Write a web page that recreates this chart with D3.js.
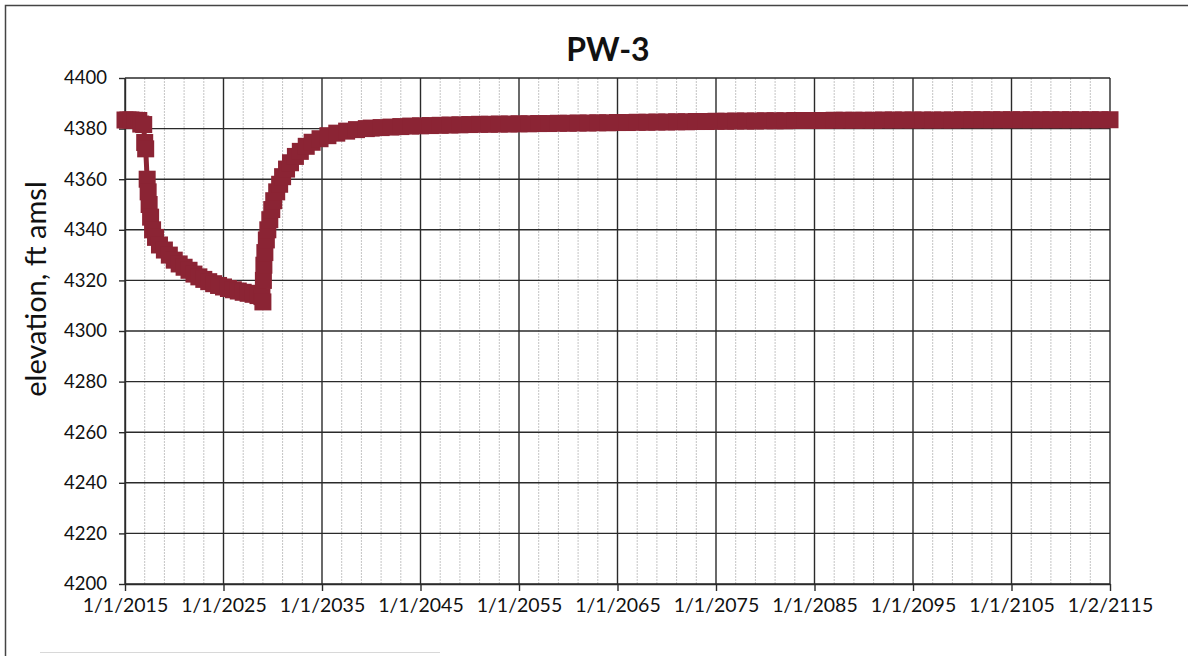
<!DOCTYPE html>
<html>
<head>
<meta charset="utf-8">
<script src="https://cdn.jsdelivr.net/npm/d3@7"></script>
<style>
  html, body { margin: 0; padding: 0; background: #fff; }
  svg { display: block; }
  text { font-family: Lato, "Open Sans", sans-serif; fill: #111; }
</style>
</head>
<body>
<svg id="chart" width="1188" height="656"></svg>
<script>
// ---- data (decimal years, elevation ft amsl) ----
const years = [
  2015.0, 2015.3, 2015.6, 2016.0, 2016.4, 2016.6, 2016.9, 2017.0, 2017.1,
  2017.25, 2017.35, 2017.45, 2017.6, 2017.8, 2018.1, 2018.5, 2019.0,
  2019.5, 2020.0, 2020.5, 2021.0, 2021.5, 2022.0, 2022.5, 2023.0,
  2023.5, 2024.0, 2024.5, 2025.0, 2025.5, 2026.0, 2026.5, 2027.0,
  2027.5, 2028.0, 2028.5, 2028.9, 2029.0,
  2029.05, 2029.1, 2029.2, 2029.35, 2029.5, 2029.7, 2029.9, 2030.1,
  2030.4, 2030.7, 2031.0, 2031.4, 2031.8, 2032.3, 2032.8, 2033.4,
  2034.0, 2034.8, 2035.6, 2036.5, 2037.5, 2038.5, 2039.5,
  2040, 2041, 2042, 2043, 2044, 2045, 2046, 2047, 2048, 2049,
  2050, 2051, 2052, 2053, 2054, 2055, 2056, 2057, 2058, 2059,
  2060, 2061, 2062, 2063, 2064, 2065, 2066, 2067, 2068, 2069,
  2070, 2071, 2072, 2073, 2074, 2075, 2076, 2077, 2078, 2079,
  2080, 2081, 2082, 2083, 2084, 2085, 2086, 2087, 2088, 2089,
  2090, 2091, 2092, 2093, 2094, 2095, 2096, 2097, 2098, 2099,
  2100, 2101, 2102, 2103, 2104, 2105, 2106, 2107, 2108, 2109,
  2110, 2111, 2112, 2113, 2114, 2115
];
const elevations = [
  4383.4, 4383.4, 4383.4, 4383.3, 4383.2, 4381.8, 4381.6, 4374.5, 4372.0,
  4360.0, 4355.0, 4350.0, 4345.0, 4340.0, 4337.0, 4334.0, 4332.0,
  4330.0, 4328.0, 4326.5, 4325.2, 4324.0, 4322.5, 4321.4, 4320.4,
  4319.5, 4318.7, 4318.0, 4317.4, 4316.8, 4316.3, 4315.8, 4315.3,
  4314.9, 4314.5, 4314.0, 4313.6, 4311.5,
  4320.0, 4326.0, 4331.0, 4336.0, 4340.0, 4344.0, 4348.0, 4351.5,
  4355.0, 4358.0, 4361.0, 4364.0, 4366.5, 4369.0, 4371.0, 4373.0,
  4374.6, 4376.0, 4377.2, 4378.2, 4379.0, 4379.6, 4380.0,
  4380.2, 4380.4, 4380.6, 4380.8, 4381.0, 4381.1, 4381.2, 4381.3, 4381.4, 4381.5,
  4381.6, 4381.7, 4381.7, 4381.8, 4381.8, 4381.9, 4381.9, 4382.0, 4382.0, 4382.1,
  4382.1, 4382.2, 4382.2, 4382.3, 4382.3, 4382.4, 4382.4, 4382.5, 4382.5, 4382.6,
  4382.6, 4382.7, 4382.7, 4382.8, 4382.8, 4382.9, 4382.9, 4383.0, 4383.0, 4383.0,
  4383.1, 4383.1, 4383.1, 4383.2, 4383.2, 4383.2, 4383.2, 4383.3, 4383.3, 4383.3,
  4383.3, 4383.3, 4383.4, 4383.4, 4383.4, 4383.4, 4383.4, 4383.4, 4383.4, 4383.4,
  4383.5, 4383.5, 4383.5, 4383.5, 4383.5, 4383.5, 4383.5, 4383.5, 4383.5, 4383.5,
  4383.5, 4383.5, 4383.5, 4383.5, 4383.5, 4383.5
];
const xTickYears = [2015, 2025, 2035, 2045, 2055, 2065, 2075, 2085, 2095, 2105, 2115];
const xTickLabels = ["1/1/2015", "1/1/2025", "1/1/2035", "1/1/2045", "1/1/2055", "1/1/2065",
                     "1/1/2075", "1/1/2085", "1/1/2095", "1/1/2105", "1/2/2115"];
const yTicks = [4200, 4220, 4240, 4260, 4280, 4300, 4320, 4340, 4360, 4380, 4400];
const minorYears = d3.range(2015, 2116, 2).filter(y => (y - 2015) % 10 !== 0);
const title = "PW-3";
const yTitle = "elevation, ft amsl";

// ---- layout ----
const svg = d3.select("#chart");
const m = { left: 125, right: 1110, top: 78, bottom: 584 };
const x = d3.scaleLinear().domain([2015, 2115]).range([m.left, m.right]);
const y = d3.scaleLinear().domain([4200, 4400]).range([m.bottom, m.top]);
const color = "#8b2434";
const fontFam = "Lato, 'Open Sans', sans-serif";

svg.append("rect").attr("width", 1188).attr("height", 656).attr("fill", "#fff");

// outer frame
svg.append("path").attr("d", "M5.5,656 V5.5 H1188")
  .attr("fill", "none").attr("stroke", "#444").attr("stroke-width", 1.5);
svg.append("line").attr("x1", 40).attr("x2", 440).attr("y1", 652.5).attr("y2", 652.5)
  .attr("stroke", "#d8d8d8").attr("stroke-width", 1);

// minor vertical gridlines
svg.append("g").selectAll("line").data(minorYears).join("line")
  .attr("x1", d => x(d)).attr("x2", d => x(d))
  .attr("y1", m.top).attr("y2", m.bottom)
  .attr("stroke", "#c4c4c4").attr("stroke-width", 1).attr("stroke-dasharray", "2,1");

// major vertical gridlines
svg.append("g").selectAll("line").data(xTickYears).join("line")
  .attr("x1", d => x(d)).attr("x2", d => x(d))
  .attr("y1", m.top).attr("y2", m.bottom)
  .attr("stroke", "#2a2a2a").attr("stroke-width", 1.4);

// horizontal gridlines
svg.append("g").selectAll("line").data(yTicks).join("line")
  .attr("x1", m.left).attr("x2", m.right)
  .attr("y1", d => y(d)).attr("y2", d => y(d))
  .attr("stroke", "#2a2a2a").attr("stroke-width", 1.4);

// axes
const xAxis = d3.axisBottom(x).tickValues(xTickYears)
  .tickFormat((d, i) => xTickLabels[i]).tickSize(7).tickSizeOuter(0).tickPadding(7);
const gx = svg.append("g").attr("transform", `translate(0,${m.bottom})`).call(xAxis);
gx.selectAll("line, path").attr("stroke", "#2a2a2a").attr("stroke-width", 1.4);
gx.selectAll("text").attr("font-size", 19.5).attr("fill", "#111").attr("font-family", fontFam);

const yAxis = d3.axisLeft(y).tickValues(yTicks).tickFormat(d3.format("d"))
  .tickSize(6).tickSizeOuter(0).tickPadding(12);
const gy = svg.append("g").attr("transform", `translate(${m.left},0)`).call(yAxis);
gy.selectAll("line, path").attr("stroke", "#2a2a2a").attr("stroke-width", 1.4);
gy.selectAll("text").attr("font-size", 18.5).attr("fill", "#111").attr("font-family", fontFam);

// series: thin line + square markers
const line = d3.line().x((d, i) => x(years[i])).y(d => y(d));
svg.append("path").datum(elevations).attr("d", line)
  .attr("fill", "none").attr("stroke", color).attr("stroke-width", 5);
const ms = 17;
svg.append("g").selectAll("rect").data(elevations).join("rect")
  .attr("x", (d, i) => x(years[i]) - ms / 2)
  .attr("y", d => y(d) - ms / 2)
  .attr("width", ms).attr("height", ms)
  .attr("fill", color);

// title
svg.append("text").attr("x", 608).attr("y", 61)
  .attr("text-anchor", "middle").attr("font-size", 32).attr("font-weight", "bold")
  .text(title);

// y title
svg.append("text")
  .attr("transform", `translate(46,289) rotate(-90)`)
  .attr("text-anchor", "middle").attr("font-size", 29)
  .text(yTitle);
</script>
</body>
</html>
